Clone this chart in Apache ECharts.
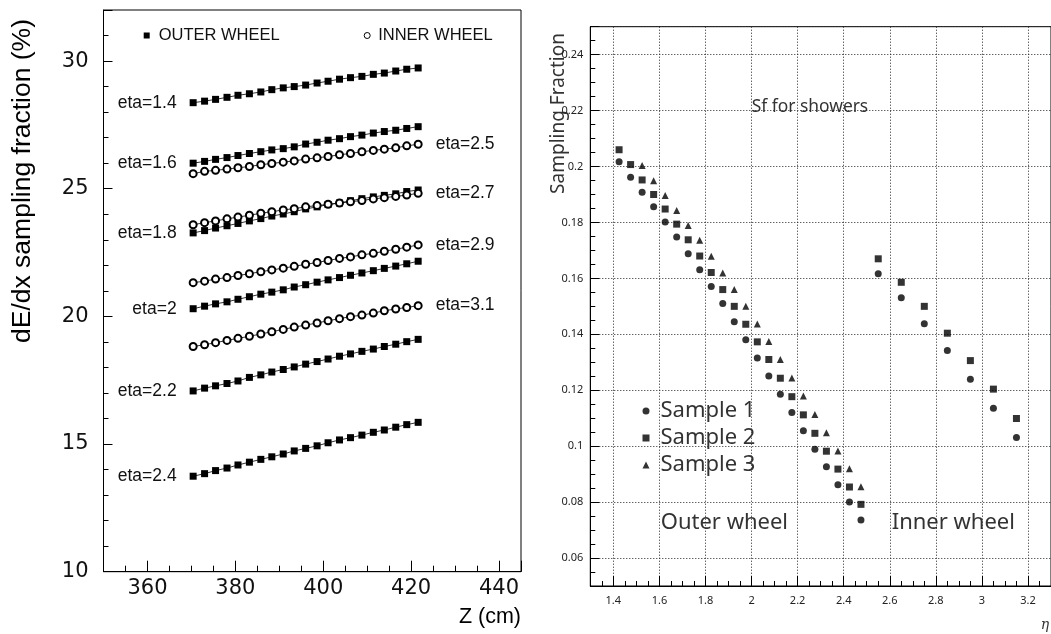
<!DOCTYPE html>
<html>
<head>
<meta charset="utf-8">
<script src="https://cdn.jsdelivr.net/npm/echarts@6/dist/echarts.min.js"></script>
<style>
html,body{margin:0;padding:0;background:#fff;}
#chart{width:1051px;height:634px;}
</style>
</head>
<body>
<div id="chart"></div>
<script>
// ---------- LEFT PANEL DATA (Z in cm, sampling fraction in %) ----------
const zPositions = [370.4, 373.0, 375.5, 378.1, 380.6, 383.2, 385.8, 388.3, 390.9, 393.4, 396.0, 398.6, 401.1, 403.7, 406.2, 408.8, 411.4, 413.9, 416.5, 419.0, 421.6];

const outerNames = ['eta=1.4', 'eta=1.6', 'eta=1.8', 'eta=2', 'eta=2.2', 'eta=2.4'];
const outerEta14 = [28.37, 28.43, 28.50, 28.58, 28.66, 28.72, 28.79, 28.88, 28.95, 29.00, 29.06, 29.14, 29.21, 29.29, 29.35, 29.40, 29.48, 29.53, 29.61, 29.68, 29.73];
const outerEta16 = [26.00, 26.07, 26.15, 26.22, 26.30, 26.38, 26.45, 26.52, 26.57, 26.64, 26.75, 26.82, 26.90, 26.96, 27.04, 27.10, 27.18, 27.24, 27.29, 27.36, 27.43];
const outerEta18 = [23.27, 23.36, 23.46, 23.55, 23.64, 23.74, 23.83, 23.93, 24.01, 24.10, 24.21, 24.29, 24.38, 24.44, 24.53, 24.61, 24.68, 24.74, 24.80, 24.89, 24.95];
const outerEta20 = [20.30, 20.40, 20.49, 20.57, 20.67, 20.77, 20.87, 20.95, 21.04, 21.15, 21.24, 21.34, 21.43, 21.52, 21.61, 21.70, 21.79, 21.88, 21.97, 22.06, 22.16];
const outerEta22 = [17.08, 17.19, 17.28, 17.37, 17.47, 17.61, 17.71, 17.82, 17.92, 18.02, 18.13, 18.23, 18.33, 18.44, 18.53, 18.63, 18.72, 18.82, 18.91, 19.01, 19.10];
const outerEta24 = [13.74, 13.84, 13.96, 14.06, 14.18, 14.29, 14.40, 14.50, 14.61, 14.73, 14.83, 14.93, 15.05, 15.16, 15.25, 15.35, 15.46, 15.55, 15.66, 15.76, 15.85];

const innerNames = ['eta=2.5', 'eta=2.7', 'eta=2.9', 'eta=3.1'];
const innerEta25 = [25.59, 25.68, 25.72, 25.77, 25.82, 25.87, 25.94, 25.99, 26.04, 26.09, 26.16, 26.21, 26.26, 26.33, 26.38, 26.45, 26.50, 26.55, 26.60, 26.68, 26.74];
const innerEta27 = [23.59, 23.67, 23.74, 23.82, 23.89, 23.96, 24.04, 24.10, 24.17, 24.22, 24.29, 24.34, 24.39, 24.44, 24.49, 24.54, 24.60, 24.65, 24.70, 24.75, 24.82];
const innerEta29 = [21.32, 21.38, 21.46, 21.52, 21.60, 21.67, 21.75, 21.82, 21.89, 21.96, 22.04, 22.11, 22.19, 22.27, 22.33, 22.41, 22.47, 22.55, 22.63, 22.71, 22.80];
const innerEta31 = [18.82, 18.89, 18.97, 19.06, 19.14, 19.22, 19.31, 19.40, 19.49, 19.58, 19.66, 19.74, 19.83, 19.91, 19.99, 20.05, 20.13, 20.22, 20.29, 20.35, 20.42];

// ---------- RIGHT PANEL DATA (eta, sampling fraction) ----------
const etaOuter = [1.425, 1.475, 1.525, 1.575, 1.625, 1.675, 1.725, 1.775, 1.825, 1.875, 1.925, 1.975, 2.025, 2.075, 2.125, 2.175, 2.225, 2.275, 2.325, 2.375, 2.425, 2.475];
const etaOuterS3 = [1.525, 1.575, 1.625, 1.675, 1.725, 1.775, 1.825, 1.875, 1.925, 1.975, 2.025, 2.075, 2.125, 2.175, 2.225, 2.275, 2.325, 2.375, 2.425, 2.475];
const etaInner = [2.55, 2.65, 2.75, 2.85, 2.95, 3.05, 3.15];

const sample1Outer = [0.2017, 0.1962, 0.1908, 0.1856, 0.1802, 0.1748, 0.1688, 0.1631, 0.1571, 0.1510, 0.1445, 0.1381, 0.1315, 0.1251, 0.1186, 0.1120, 0.1055, 0.0989, 0.0926, 0.0862, 0.0800, 0.0736];
const sample2Outer = [0.2060, 0.2007, 0.1952, 0.1900, 0.1848, 0.1794, 0.1738, 0.1680, 0.1621, 0.1560, 0.1500, 0.1436, 0.1373, 0.1310, 0.1243, 0.1177, 0.1112, 0.1046, 0.0982, 0.0918, 0.0854, 0.0792];
const sample3Outer = [0.2004, 0.1949, 0.1896, 0.1843, 0.1789, 0.1736, 0.1679, 0.1619, 0.1560, 0.1500, 0.1437, 0.1374, 0.1310, 0.1244, 0.1179, 0.1113, 0.1048, 0.0983, 0.0919, 0.0855];
const sample1Inner = [0.1617, 0.1531, 0.1438, 0.1342, 0.1239, 0.1136, 0.1031];
const sample2Inner = [0.1670, 0.1586, 0.1500, 0.1404, 0.1306, 0.1204, 0.1099];

const sampleNames = ['Sample 1', 'Sample 2', 'Sample 3'];

// ---------- helpers ----------
const zip = (xs, ys) => ys.map((y, i) => [xs[i], y]);
const SANS = "'Liberation Sans', Arial, sans-serif";
const ROOTF = "'DejaVu Sans', sans-serif";
const THIN = "'Noto Sans', 'DejaVu Sans', sans-serif";

const outerData = [outerEta14, outerEta16, outerEta18, outerEta20, outerEta22, outerEta24];
const innerData = [innerEta25, innerEta27, innerEta29, innerEta31];

const etaLabelStyle = { fontFamily: SANS, fontSize: 17.5, color: '#111' };

const series = [];
outerData.forEach((vals, k) => {
  const data = zip(zPositions, vals).map((p, i) => i === 0 ? {
    value: p,
    label: Object.assign({ show: true, position: 'left', distance: 13, formatter: outerNames[k] }, etaLabelStyle)
  } : p);
  series.push({
    type: 'line', name: outerNames[k], xAxisIndex: 0, yAxisIndex: 0,
    symbol: 'rect', symbolSize: 7, showAllSymbol: true, silent: true,
    itemStyle: { color: '#000' }, lineStyle: { color: '#000', width: 0.8 },
    data: data, animation: false
  });
});
innerData.forEach((vals, k) => {
  const data = zip(zPositions, vals).map((p, i) => i === vals.length - 1 ? {
    value: p,
    label: Object.assign({ show: true, position: 'right', distance: 13, formatter: innerNames[k] }, etaLabelStyle)
  } : p);
  series.push({
    type: 'line', name: innerNames[k], xAxisIndex: 0, yAxisIndex: 0,
    symbol: 'emptyCircle', symbolSize: 7, showAllSymbol: true, silent: true,
    itemStyle: { color: '#000', borderWidth: 1 }, lineStyle: { color: '#000', width: 0.8 },
    data: data, animation: false
  });
});
// legend carriers for left panel
series.push({ type: 'line', name: 'OUTER WHEEL', xAxisIndex: 0, yAxisIndex: 0, data: [], itemStyle: { color: '#000' } });
series.push({ type: 'line', name: 'INNER WHEEL', xAxisIndex: 0, yAxisIndex: 0, data: [], itemStyle: { color: '#000' } });

// right panel scatter
series.push({ type: 'scatter', name: sampleNames[0], xAxisIndex: 1, yAxisIndex: 1, symbol: 'circle', symbolSize: 7,
  itemStyle: { color: '#000' }, data: zip(etaOuter, sample1Outer).concat(zip(etaInner, sample1Inner)), animation: false });
series.push({ type: 'scatter', name: sampleNames[1], xAxisIndex: 1, yAxisIndex: 1, symbol: 'rect', symbolSize: 7,
  itemStyle: { color: '#000' }, data: zip(etaOuter, sample2Outer).concat(zip(etaInner, sample2Inner)), animation: false });
series.push({ type: 'scatter', name: sampleNames[2], xAxisIndex: 1, yAxisIndex: 1, symbol: 'triangle', symbolSize: 7,
  itemStyle: { color: '#000' }, data: zip(etaOuterS3, sample3Outer), animation: false });

const axisLineStyle = { lineStyle: { color: '#000', width: 1 } };

const option = {
  backgroundColor: '#fff',
  animation: false,
  grid: [
    { left: 103.5, top: 10, width: 417.5, height: 561.7, show: true, borderColor: '#000', borderWidth: 1, backgroundColor: 'transparent' },
    { left: 590.3, top: 26.7, width: 460.7, height: 559.3, show: true, borderColor: '#000', borderWidth: 1, backgroundColor: 'transparent' }
  ],
  xAxis: [
    { type: 'value', gridIndex: 0, min: 350, max: 445, splitNumber: 5,
      axisLine: axisLineStyle,
      axisTick: { show: true, inside: true, length: 11, lineStyle: { color: '#000' } },
      minorTick: { show: true, splitNumber: 4, length: 6, lineStyle: { color: '#000' } },
      splitLine: { show: false },
      axisLabel: { fontFamily: ROOTF, fontSize: 21, color: '#111', margin: 6, showMinLabel: false, showMaxLabel: false }
    },
    { type: 'value', gridIndex: 1, min: 1.3, max: 3.3, splitNumber: 10,
      axisLine: axisLineStyle,
      axisTick: { show: true, inside: true, length: 10, lineStyle: { color: '#000' } },
      minorTick: { show: true, splitNumber: 4, length: 5, lineStyle: { color: '#000' } },
      splitLine: { show: true, lineStyle: { color: '#222', type: [1, 2], width: 1 } },
      axisLabel: { fontFamily: THIN, fontSize: 11, color: '#222', margin: 9, showMinLabel: false, showMaxLabel: false }
    }
  ],
  yAxis: [
    { type: 'value', gridIndex: 0, min: 10, max: 32, splitNumber: 5,
      axisLine: axisLineStyle,
      axisTick: { show: true, inside: true, length: 9, lineStyle: { color: '#000' } },
      minorTick: { show: true, splitNumber: 5, length: 5, lineStyle: { color: '#000' } },
      splitLine: { show: false },
      axisLabel: { fontFamily: ROOTF, fontSize: 21, color: '#111', margin: 15, showMinLabel: true, showMaxLabel: false }
    },
    { type: 'value', gridIndex: 1, min: 0.05, max: 0.25, splitNumber: 10,
      axisLine: axisLineStyle,
      axisTick: { show: true, inside: true, length: 9, lineStyle: { color: '#000' } },
      minorTick: { show: true, splitNumber: 4, length: 5, lineStyle: { color: '#000' } },
      splitLine: { show: true, lineStyle: { color: '#222', type: [1, 2], width: 1 } },
      axisLabel: { fontFamily: THIN, fontSize: 11, color: '#222', margin: 7, showMinLabel: false, showMaxLabel: false }
    }
  ],
  legend: [
    { left: 143.7, top: 27, padding: 0, itemWidth: 6, itemHeight: 6, selectedMode: false,
      textStyle: { fontFamily: SANS, fontSize: 16.5, color: '#111', padding: [0, 0, 0, 4] },
      data: [{ name: 'OUTER WHEEL', icon: 'rect', itemStyle: { color: '#000' } }] },
    { left: 363.7, top: 27, padding: 0, itemWidth: 6, itemHeight: 6, selectedMode: false,
      textStyle: { fontFamily: SANS, fontSize: 16.5, color: '#111', padding: [0, 0, 0, 3] },
      data: [{ name: 'INNER WHEEL', icon: 'circle', itemStyle: { color: '#fff', borderColor: '#000', borderWidth: 1 } }] },
    { left: 642.5, top: 399, padding: 0, orient: 'vertical', itemWidth: 7, itemHeight: 7, itemGap: 3, selectedMode: false,
      textStyle: { fontFamily: THIN, fontSize: 22, color: '#333', lineHeight: 24, padding: [0, 0, 0, 6] },
      data: [
        { name: 'Sample 1', icon: 'circle' },
        { name: 'Sample 2', icon: 'rect' },
        { name: 'Sample 3', icon: 'triangle' }
      ] }
  ],
  graphic: [
    { type: 'text', x: 23, y: 181, rotation: Math.PI / 2,
      style: { text: 'dE/dx sampling fraction (%)', fontFamily: SANS, fontSize: 26.5, fill: '#000', align: 'center', verticalAlign: 'middle' } },
    { type: 'text', x: 521, y: 617,
      style: { text: 'Z (cm)', fontFamily: SANS, fontSize: 21.5, fill: '#000', align: 'right', verticalAlign: 'middle' } },
    { type: 'text', x: 559, y: 113.5, rotation: Math.PI / 2,
      style: { text: 'Sampling Fraction', fontFamily: THIN, fontSize: 19, fill: '#333', align: 'center', verticalAlign: 'middle' } },
    { type: 'text', x: 751.7, y: 106.7,
      style: { text: 'Sf for showers', fontFamily: THIN, fontSize: 17.4, fill: '#333', align: 'left', verticalAlign: 'middle' } },
    { type: 'text', x: 660.7, y: 523,
      style: { text: 'Outer wheel', fontFamily: THIN, fontSize: 22, fill: '#333', align: 'left', verticalAlign: 'middle' } },
    { type: 'text', x: 891.7, y: 523,
      style: { text: 'Inner wheel', fontFamily: THIN, fontSize: 22, fill: '#333', align: 'left', verticalAlign: 'middle' } },
    { type: 'text', x: 1045, y: 625,
      style: { text: 'η', fontFamily: "'DejaVu Serif', serif", fontStyle: 'italic', fontSize: 14, fill: '#333', align: 'center', verticalAlign: 'middle' } }
  ],
  series: series
};

const chart = echarts.init(document.getElementById('chart'), null, { renderer: 'canvas' });
chart.setOption(option);
</script>
</body>
</html>
